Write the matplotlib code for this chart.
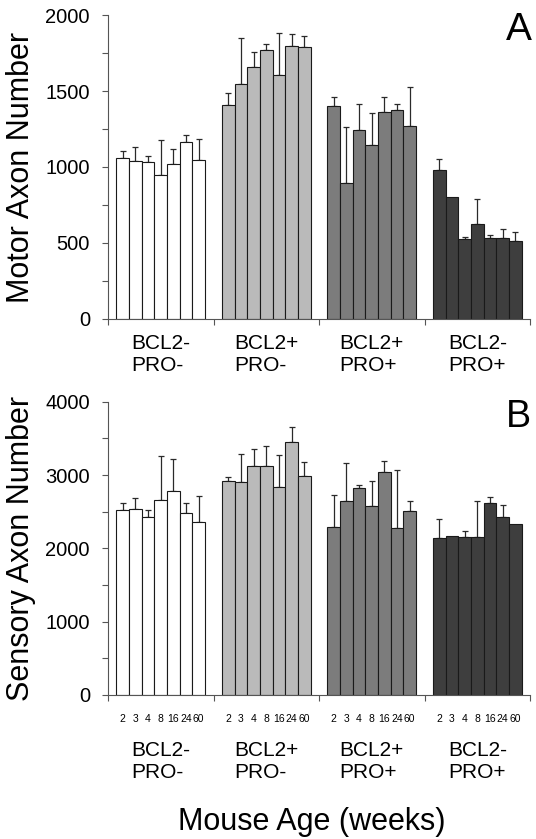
import numpy as np
import matplotlib
matplotlib.use("Agg")
import matplotlib.pyplot as plt
from matplotlib.ticker import MultipleLocator

plt.rcParams['font.family'] = ['Liberation Sans', 'DejaVu Sans']

groups = ["BCL2-\nPRO-", "BCL2+\nPRO-", "BCL2+\nPRO+", "BCL2-\nPRO+"]
ages = ["2", "3", "4", "8", "16", "24", "60"]
group_colors = ["#ffffff", "#bababa", "#7c7c7c", "#3e3e3e"]

motor_mean = [
    [1057, 1039, 1031, 945, 1018, 1162, 1048],
    [1406, 1548, 1660, 1770, 1605, 1798, 1788],
    [1399, 897, 1243, 1143, 1362, 1375, 1270],
    [978, 800, 526, 623, 535, 535, 511],
]
motor_err = [
    [48, 95, 39, 233, 100, 46, 138],
    [83, 303, 99, 37, 277, 75, 74],
    [64, 364, 174, 210, 101, 42, 254],
    [77, 0, 16, 164, 16, 59, 59],
]
sensory_mean = [
    [2519, 2541, 2428, 2656, 2783, 2478, 2360],
    [2915, 2901, 3128, 3128, 2833, 3451, 2983],
    [2296, 2642, 2819, 2574, 3037, 2274, 2510],
    [2141, 2165, 2151, 2159, 2615, 2432, 2332],
]
sensory_err = [
    [100, 150, 100, 600, 432, 137, 359],
    [63, 390, 228, 268, 436, 205, 200],
    [436, 518, 50, 341, 159, 791, 132],
    [255, 0, 90, 483, 82, 164, 0],
]

W, H = 536, 839
fig = plt.figure(figsize=(W / 100, H / 100), dpi=100)

left = 108 / W
width = 422 / W
ax1 = fig.add_axes([left, 1 - 319 / H, width, (319 - 15) / H])
ax2 = fig.add_axes([left, 1 - 695 / H, width, (695 - 401.7) / H])

bw = 0.12


def draw(ax, means, errs, ymax, major, minor):
    centers_all = []
    for gi, (m, e) in enumerate(zip(means, errs)):
        centers = gi + 0.5 + (np.arange(len(m)) - 3) * bw
        centers_all.extend(centers)
        ax.bar(centers, m, width=bw, color=group_colors[gi], edgecolor="#1a1a1a",
               linewidth=0.8, zorder=2)
        m = np.array(m, dtype=float)
        e = np.array(e, dtype=float)
        mask = e > 0
        ax.errorbar(centers[mask], m[mask], yerr=[np.zeros(mask.sum()), e[mask]],
                    fmt='none', ecolor="#2a2a2a", elinewidth=0.9, capsize=2.3,
                    capthick=0.9, zorder=1)
    ax.set_xlim(0, 4)
    ax.set_ylim(0, ymax)
    ax.yaxis.set_major_locator(MultipleLocator(major))
    ax.yaxis.set_minor_locator(MultipleLocator(minor))
    for s in ["top", "right"]:
        ax.spines[s].set_visible(False)
    for s in ["left", "bottom"]:
        ax.spines[s].set_color("#555555")
        ax.spines[s].set_linewidth(0.8)
    ax.tick_params(axis='y', which='both', direction='out', length=4, width=0.8,
                   color="#555555", labelsize=14.5, pad=9)
    return centers_all


draw(ax1, motor_mean, motor_err, 2000, 500, 250)
centers = draw(ax2, sensory_mean, sensory_err, 4000, 1000, 500)

# top x axis: group boundary ticks, no labels
ax1.set_xticks([0, 1, 2, 3, 4])
ax1.set_xticklabels([])
ax1.tick_params(axis='x', direction='out', length=4, width=0.8, color="#555555")

# bottom x axis: age labels at bar centers, boundary minor ticks
ax2.set_xticks(centers)
ax2.set_xticklabels(ages * 4, fontsize=7.5)
ax2.tick_params(axis='x', which='major', length=0, pad=14)
ax2.set_xticks([0, 1, 2, 3, 4], minor=True)
ax2.tick_params(axis='x', which='minor', direction='out', length=4, width=0.8,
                color="#555555")

for ax, off in [(ax1, 25.6), (ax2, 47.9)]:
    for gi, g in enumerate(groups):
        ax.annotate(g, xy=(gi + 0.5, 0), xycoords=('data', 'axes fraction'),
                    xytext=(0, -off), textcoords='offset points',
                    ha='center', va='center', multialignment='left',
                    fontsize=15, linespacing=1.15)

fig.text(21 / W, 1 - 167 / H, "Motor Axon Number", rotation=90, ha='center',
         va='center', fontsize=22)
fig.text(21 / W, 1 - 548 / H, "Sensory Axon Number", rotation=90, ha='center',
         va='center', fontsize=22)
fig.text(312 / W, 1 - 822 / H, "Mouse Age (weeks)", ha='center', va='center',
         fontsize=22)
fig.text(532 / W, 1 - 12 / H, "A", ha='right', va='top', fontsize=28)
fig.text(531 / W, 1 - 399 / H, "B", ha='right', va='top', fontsize=27)

fig.savefig("out.png", dpi=100)
